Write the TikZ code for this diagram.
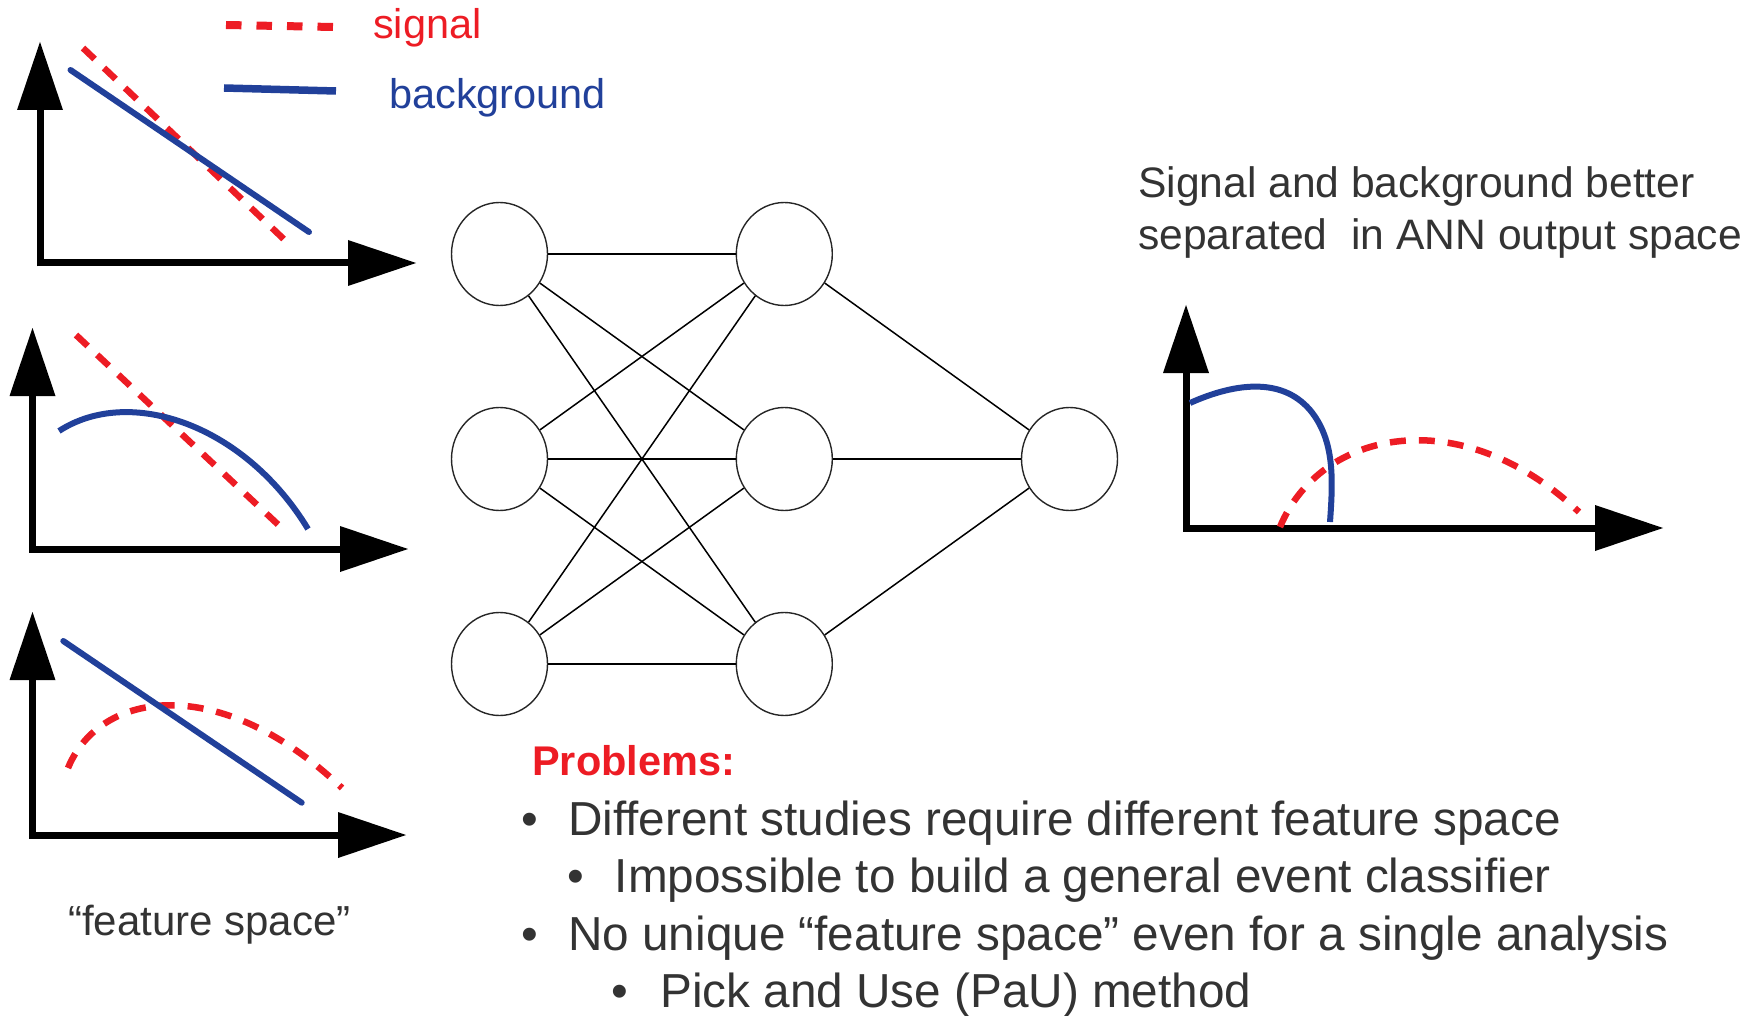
\documentclass[tikz,border=0pt]{standalone}
\usepackage{fontspec}
\setmainfont{Liberation Sans}
\usetikzlibrary{shapes.geometric}
\definecolor{sigred}{HTML}{ED1C24}
\definecolor{bkgblue}{HTML}{21409A}
\definecolor{txtgray}{HTML}{333333}
\begin{document}
\begin{tikzpicture}[x=1pt,y=-1pt,
  axisline/.style={line width=7pt},
  sig/.style={sigred,line width=6.5pt,dash pattern=on 16pt off 13pt},
  legsig/.style={sigred,line width=8pt,dash pattern=on 15.5pt off 15pt},
  bkg/.style={bkgblue,line width=6pt,line cap=round},
  legbkg/.style={bkgblue,line width=7.5pt},
  neuron/.style={ellipse,draw=black!85,line width=1.4pt,minimum width=96pt,minimum height=103pt,inner sep=0pt},
  link/.style={line width=1.5pt},
  txt/.style={inner sep=0pt,anchor=base west,text=txtgray},
]
\useasboundingbox (0,0) rectangle (1756,1016);

% axes of the four plots: corner x, corner y, y-tip, x-tip
\foreach \cx/\cy/\yt/\xt in {40/263/42/416, 32.5/549/328/408, 32.5/835/612/406, 1186/528/305/1663}{
  \draw[axisline] (\cx,\cy+3.5) -- (\cx,\yt+68);
  \fill (\cx-23,\yt+68) -- (\cx,\yt) -- (\cx+23,\yt+68) -- cycle;
  \draw[axisline] (\cx,\cy) -- (\xt-68,\cy);
  \fill (\xt-68,\cy-23) -- (\xt,\cy) -- (\xt-68,\cy+23) -- cycle;
}

% legend
\draw[legsig] (226,25) -- (334,27);
\draw[legbkg] (224,88) -- (336,91);
\node[inner sep=0pt,anchor=base west,text=sigred] (lsig) at (373,38.3) {\fontsize{41.5}{48}\selectfont signal};
\node[inner sep=0pt,anchor=base west,text=bkgblue] (lbkg) at (389,108.3) {\fontsize{41.5}{48}\selectfont background};

% plot 1
\draw[sig] (83,48) -- (292,247);
\draw[bkg] (70.5,70) -- (309,232);

% plot 2
\draw[sig] (76,335) -- (286,532);
\draw[bkg,line cap=butt] (59,431) .. controls (130,385) and (245,425) .. (308,529);

% plot 3
\draw[sig] (68,768) .. controls (100,690) and (220,672) .. (342,788);
\draw[bkg] (63.3,641) -- (301.7,802.7);

% plot 4
\draw[sig] (1280,527) .. controls (1320,430) and (1460,400) .. (1579,512);
\draw[bkg,line cap=butt] (1190,403) .. controls (1230,385) and (1280,375) .. (1310,410)
   .. controls (1335,440) and (1333,480) .. (1330,522);

% network
\foreach \i/\y in {1/254,2/459,3/664}{
  \node[neuron] (a\i) at (499.5,\y) {};
  \node[neuron] (b\i) at (784.3,\y) {};
}
\node[neuron] (c) at (1069.5,459) {};
\foreach \i in {1,2,3}{
  \foreach \j in {1,2,3}{
    \draw[link] (a\i) -- (b\j);
  }
  \draw[link] (b\i) -- (c);
}

% texts
\node[txt] (fs) at (68,935) {\fontsize{42}{48}\selectfont “feature space”};
\node[txt] (out1) at (1138,197.5) {\fontsize{42.6}{48}\selectfont Signal and background better};
\node[txt] (out2) at (1138,250) {\fontsize{42.6}{48}\selectfont separated\ \ in ANN output space};

\node[inner sep=0pt,anchor=base west,text=sigred] (prob) at (532,775) {\fontsize{41.5}{48}\selectfont\bfseries Problems:};
\node[txt] (bu1) at (521.6,835) {\fontsize{47.7}{55}\selectfont •};
\node[txt] (t1) at (568,835) {\fontsize{47.7}{55}\selectfont Different studies require different feature space};
\node[txt] (bu2) at (567.6,892.7) {\fontsize{47.7}{55}\selectfont •};
\node[txt] (t2) at (614.6,892.7) {\fontsize{47.7}{55}\selectfont Impossible to build a general event classifier};
\node[txt] (bu3) at (521.6,950.7) {\fontsize{47.7}{55}\selectfont •};
\node[txt] (t3) at (568,950.7) {\fontsize{47.7}{55}\selectfont No unique “feature space” even for a single analysis};
\node[txt] (bu4) at (611.6,1007) {\fontsize{47.7}{55}\selectfont •};
\node[txt] (t4) at (660,1007) {\fontsize{47.7}{55}\selectfont Pick and Use (PaU) method};
\end{tikzpicture}
\end{document}
